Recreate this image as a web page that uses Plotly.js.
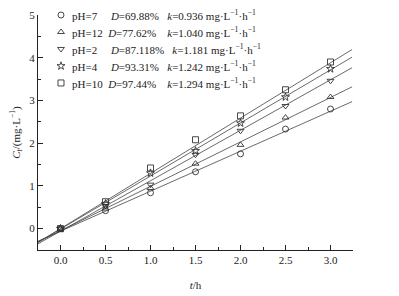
<!DOCTYPE html>
<html>
<head>
<meta charset="utf-8">
<script src="https://cdn.plot.ly/plotly-3.0.1.min.js"></script>
<style>html,body{margin:0;padding:0;background:#fff;}#chart{width:399px;height:296px;}</style>
</head>
<body>
<div id="chart"></div>
<script>
// time points (h)
const times = [0, 0.5, 1.0, 1.5, 2.0, 2.5, 3.0];
// series labels
const phLabels = ['pH=7', 'pH=12', 'pH=2', 'pH=4', 'pH=10'];
const removal = ['69.88%', '77.62%', '87.118%', '93.31%', '97.44%'];
const rateK = [0.936, 1.040, 1.181, 1.242, 1.294];
const kText = ['0.936', '1.040', '1.181', '1.242', '1.294'];
// fitted intercepts
const intercepts = [-0.06, -0.05, -0.06, -0.01, 0.0];
// measured Ct values (mg/L)
const ph7  = [0, 0.42, 0.84, 1.33, 1.75, 2.33, 2.80];
const ph12 = [0, 0.47, 0.95, 1.52, 1.96, 2.60, 3.08];
const ph2  = [0, 0.53, 1.03, 1.73, 2.29, 2.87, 3.46];
const ph4  = [0, 0.58, 1.30, 1.82, 2.47, 3.08, 3.74];
const ph10 = [0, 0.63, 1.42, 2.08, 2.64, 3.25, 3.90];
const seriesValues = [ph7, ph12, ph2, ph4, ph10];
const symbols = ['circle-open', 'triangle-up-open', 'triangle-down-open', 'star-open', 'square-open'];
// fit line span (h)
const fitSpan = [-0.25, 3.24];

const font = 'Liberation Serif, Times New Roman, serif';
const ink = '#333';
const nb = n => '\u00a0'.repeat(n);
const gaps1 = [nb(5), nb(2), nb(5), nb(5), nb(2)];
const gaps2 = [nb(3), nb(4), nb(3), nb(3), nb(4)];

// legend box geometry (fractions of the plot area)
const legMarkX = 0.073, legTextX = 0.102, legTop = 1.0, legStep = 0.0723;

const traces = [];
seriesValues.forEach((vals, i) => {
  traces.push({
    x: fitSpan,
    y: fitSpan.map(t => rateK[i] * t + intercepts[i]),
    mode: 'lines',
    line: {color: '#444', width: 0.8},
    showlegend: false,
    hoverinfo: 'skip'
  });
});
seriesValues.forEach((vals, i) => {
  traces.push({
    x: times,
    y: vals,
    mode: 'markers',
    name: phLabels[i],
    showlegend: false,
    marker: {symbol: symbols[i], size: 6, color: ink, line: {color: ink, width: 0.9}}
  });
});
// legend key symbols, on a hidden 0–1 overlay axis
const annotations = [];
seriesValues.forEach((vals, i) => {
  const ly = legTop - i * legStep;
  traces.push({
    x: [legMarkX], y: [ly], xaxis: 'x2', yaxis: 'y2',
    mode: 'markers', showlegend: false, hoverinfo: 'skip', cliponaxis: false,
    marker: {symbol: symbols[i], size: 6, color: ink, line: {color: ink, width: 0.9}}
  });
  annotations.push({
    xref: 'paper', yref: 'paper', x: legTextX, y: ly,
    xanchor: 'left', yanchor: 'middle', showarrow: false,
    font: {family: font, size: 11, color: '#222'},
    text: phLabels[i] + gaps1[i] + '<i>D</i>=' + removal[i] + gaps2[i] + '<i>k</i>=' + kText[i] + ' mg·L<sup>−1</sup>·h<sup>−1</sup>'
  });
});

const layout = {
  width: 399, height: 296,
  margin: {l: 38, r: 46, t: 15, b: 46},
  paper_bgcolor: '#fff', plot_bgcolor: '#fff',
  font: {family: font, size: 11, color: '#222'},
  showlegend: false,
  annotations: annotations,
  xaxis: {
    range: [-0.25, 3.25], dtick: 0.5, tick0: 0, tickformat: '.1f',
    showgrid: false, zeroline: false, showline: true, linecolor: '#222', linewidth: 1,
    ticks: 'inside', ticklen: 5, tickwidth: 1, tickcolor: '#222',
    minor: {dtick: 0.25, ticks: 'inside', ticklen: 3, tickwidth: 1, tickcolor: '#222'},
    tickfont: {family: font, size: 11, color: '#222'},
    title: {text: '<i>t</i>/h', font: {family: font, size: 11, color: '#222'}, standoff: 16}
  },
  yaxis: {
    range: [-0.5, 5], dtick: 1, tick0: 0,
    showgrid: false, zeroline: false, showline: true, linecolor: '#222', linewidth: 1,
    ticks: 'inside', ticklen: 5, tickwidth: 1, tickcolor: '#222',
    minor: {dtick: 0.5, ticks: 'inside', ticklen: 3, tickwidth: 1, tickcolor: '#222'},
    tickfont: {family: font, size: 11, color: '#222'},
    title: {text: '<i>C<sub>t</sub></i>/(mg·L<sup>−1</sup>)', font: {family: font, size: 11, color: '#222'}, standoff: 6}
  },
  xaxis2: {overlaying: 'x', anchor: 'y2', range: [0, 1], visible: false, fixedrange: true},
  yaxis2: {overlaying: 'y', anchor: 'x2', range: [0, 1], visible: false, fixedrange: true}
};

Plotly.newPlot('chart', traces, layout, {staticPlot: true, displayModeBar: false});
</script>
</body>
</html>
